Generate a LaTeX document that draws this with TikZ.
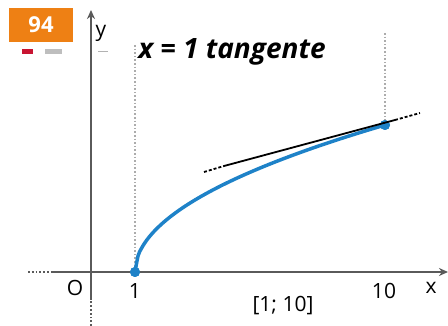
\documentclass[tikz,border=0pt]{standalone}
\usepackage{fontspec}
\setmainfont{Open Sans}
\usetikzlibrary{arrows.meta}
\definecolor{axisgray}{RGB}{90,90,90}
\definecolor{curveblue}{RGB}{30,130,200}
\definecolor{boxorange}{RGB}{238,128,20}
\definecolor{barred}{RGB}{200,20,50}
\definecolor{bargray}{RGB}{190,190,190}
\tikzset{
  axisline/.style={axisgray, line width=1.8pt},
  guide/.style={gray!65, line width=1.6pt, dash pattern=on 1.6pt off 2pt},
  lbl/.style={font=\fontsize{21}{24}\selectfont, text=black, inner sep=0pt},
  dotpt/.style={circle, fill=curveblue, minimum size=10pt, inner sep=0pt}
}
\begin{document}
\begin{tikzpicture}[x=1pt,y=-1pt]
\useasboundingbox (0,0) rectangle (448,326);
% badge
\node[fill=boxorange, minimum width=64pt, minimum height=34pt, inner sep=0pt, text=white, font=\fontsize{22}{24}\selectfont\bfseries] (badge) at (41,25) {94};
\fill[barred] (22,49) rectangle (33,54);
\fill[bargray] (45,49) rectangle (62,54);
% guides
\coordinate (g1t) at (135,45);
\coordinate (g10t) at (385,33);
\node[dotpt] (p1) at (135,272) {};
\node[dotpt] (p10) at (385,125) {};
\draw[guide] (g1t) -- (p1.center);
\draw[guide] (g10t) -- (p10.center);
% axes
\coordinate (xl) at (28,272);
\coordinate (xs) at (52,272);
\coordinate (xr) at (448,272);
\coordinate (yb) at (91,326);
\coordinate (ys) at (91,300);
\coordinate (yt) at (91,10);
\draw[axisline, dash pattern=on 1.8pt off 2pt] (xl) -- (xs);
\draw[axisline, -{Stealth[length=9pt,width=8pt]}] (xs) -- (xr);
\draw[axisline, dash pattern=on 1.8pt off 2pt] (yb) -- (ys);
\draw[axisline, -{Stealth[length=9pt,width=8pt]}] (ys) -- (yt);
\draw[gray!60, line width=1pt] (98,52) -- (108,52);
% curve
\draw[curveblue, line width=3.5pt, domain=0:9, samples=80, smooth, variable=\t]
  plot ({135+27.78*\t},{272-49*sqrt(\t)});
\node[dotpt] at (p1) {};
\node[dotpt] at (p10) {};
% tangent
\coordinate (ta) at (204,172);
\coordinate (tb) at (224,166);
\coordinate (tc) at (395,120);
\coordinate (td) at (420,113);
\draw[black, line width=1.8pt] (tb) -- (tc);
\draw[black, line width=1.8pt, dash pattern=on 3pt off 2pt] (ta) -- (tb);
\draw[black, line width=1.8pt, dash pattern=on 3pt off 2pt] (tc) -- (td);
% labels
\node[lbl] (yl) at (101,33) {y};
\node[lbl] (xlab) at (431,288) {x};
\node[lbl] (o) at (75,288) {O};
\node[lbl] (one) at (135,291) {1};
\node[lbl] (ten) at (384,291) {10};
\node[lbl] (int) at (283,306) {[1; 10]};
\node[font=\fontsize{28}{30}\selectfont\itshape\bfseries, inner sep=0pt] (hand) at (232,52) {x = 1 tangente};
\end{tikzpicture}
\end{document}
